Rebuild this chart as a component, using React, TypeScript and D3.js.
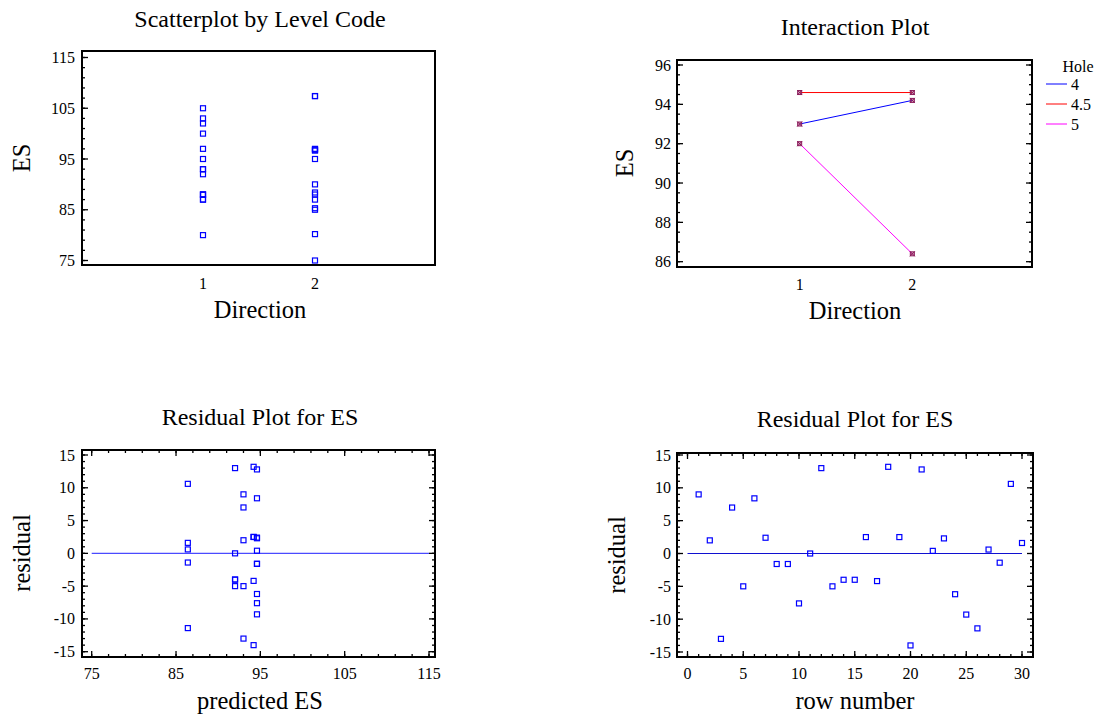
import React from "react";
import * as d3 from "d3";

// Observations: row order, factor levels and the response ES
const direction = [1, 1, 1, 1, 1, 1, 1, 1, 1, 1, 1, 1, 1, 1, 1, 2, 2, 2, 2, 2, 2, 2, 2, 2, 2, 2, 2, 2, 2, 2];
const hole = [4, 4, 4, 4, 4, 4.5, 4.5, 4.5, 4.5, 4.5, 5, 5, 5, 5, 5, 4, 4, 4, 4, 4, 4.5, 4.5, 4.5, 4.5, 4.5, 5, 5, 5, 5, 5];
const es = [
  102, 95, 80, 100, 88,
  103, 97, 93, 93, 87,
  92, 105, 87, 88, 88,
  96.7, 90, 107.4, 96.7, 80.2,
  107.4, 95, 96.9, 88.4, 85.3,
  75, 87, 85, 97, 88,
];

const directionLevels = [1, 2];
const holeLevels = [4, 4.5, 5];
const holeColors = ["#0000ff", "#ff0000", "#ff00ff"];

const esTicks = [75, 85, 95, 105, 115];
const meanTicks = [86, 88, 90, 92, 94, 96];
const residTicks = [-15, -10, -5, 0, 5, 10, 15];
const predTicks = [75, 85, 95, 105, 115];
const rowTicks = [0, 5, 10, 15, 20, 25, 30];

// cell means for the Hole x Direction model
const cellMean = (h: number, dir: number) =>
  d3.mean(es.filter((_, i) => hole[i] === h && direction[i] === dir)) as number;
const predicted = es.map((_, i) => cellMean(hole[i], direction[i]));
const residual = es.map((v, i) => v - predicted[i]);
const rowNumber = es.map((_, i) => i + 1);

const FONT = "'Liberation Serif', 'Times New Roman', serif";
const BLUE = "#0000ff";
const TITLE_SIZE = 24;
const LABEL_SIZE = 24.5;
const TICK_SIZE = 16;

type Frame = { x0: number; x1: number; y0: number; y1: number };
type Lin = d3.ScaleLinear<number, number>;

function Ticks({ scale, values, frame, side, len }: { scale: Lin; values: number[]; frame: Frame; side: "left" | "right" | "top" | "bottom"; len: number }) {
  return (
    <g stroke="#000" strokeWidth={1.3}>
      {values.map((v, i) => {
        const p = scale(v);
        if (side === "left") return <line key={i} x1={frame.x0} x2={frame.x0 + len} y1={p} y2={p} />;
        if (side === "right") return <line key={i} x1={frame.x1} x2={frame.x1 - len} y1={p} y2={p} />;
        if (side === "top") return <line key={i} x1={p} x2={p} y1={frame.y0} y2={frame.y0 + len} />;
        return <line key={i} x1={p} x2={p} y1={frame.y1} y2={frame.y1 - len} />;
      })}
    </g>
  );
}

function range(a: number, b: number, step: number) {
  return d3.range(a, b + step / 2, step).map((v) => +v.toFixed(4));
}

function Square({ x, y }: { x: number; y: number }) {
  return <rect x={x - 2.5} y={y - 2.5} width={5} height={5} fill="none" stroke={BLUE} strokeWidth={1.2} />;
}

function Title({ x, y, text }: { x: number; y: number; text: string }) {
  return (
    <text x={x} y={y} textAnchor="middle" fontSize={TITLE_SIZE} fontFamily={FONT}>
      {text}
    </text>
  );
}

function AxisLabelX({ x, y, text }: { x: number; y: number; text: string }) {
  return (
    <text x={x} y={y} textAnchor="middle" fontSize={LABEL_SIZE} fontFamily={FONT}>
      {text}
    </text>
  );
}

function AxisLabelY({ x, y, text }: { x: number; y: number; text: string }) {
  return (
    <text transform={`translate(${x},${y}) rotate(-90)`} textAnchor="middle" fontSize={LABEL_SIZE} fontFamily={FONT}>
      {text}
    </text>
  );
}

function YTickLabels({ scale, values, x }: { scale: Lin; values: number[]; x: number }) {
  return (
    <g fontSize={TICK_SIZE} fontFamily={FONT} textAnchor="end">
      {values.map((v) => (
        <text key={v} x={x} y={scale(v) + 5.5}>
          {v}
        </text>
      ))}
    </g>
  );
}

function XTickLabels({ scale, values, y }: { scale: Lin; values: number[]; y: number }) {
  return (
    <g fontSize={TICK_SIZE} fontFamily={FONT} textAnchor="middle">
      {values.map((v) => (
        <text key={v} x={scale(v)} y={y}>
          {v}
        </text>
      ))}
    </g>
  );
}

function FrameRect({ f }: { f: Frame }) {
  return <rect x={f.x0} y={f.y0} width={f.x1 - f.x0} height={f.y1 - f.y0} fill="none" stroke="#000" strokeWidth={2} />;
}

export default function App() {
  // Scatterplot by level code
  const f1: Frame = { x0: 82, x1: 435, y0: 51, y1: 265 };
  const x1 = d3.scaleLinear().domain([0, 3]).range([91, 427]);
  const y1 = d3.scaleLinear().domain([75, 115]).range([260.5, 57.5]);

  // Interaction plot
  const f2: Frame = { x0: 677, x1: 1032, y0: 60, y1: 267 };
  const x2 = d3.scaleLinear().domain([0, 3]).range([687, 1025]);
  const y2 = d3.scaleLinear().domain([86, 96]).range([261.7, 65]);
  const lineGen = d3
    .line<{ d: number; m: number }>()
    .x((p) => x2(p.d))
    .y((p) => y2(p.m));

  // Residuals vs predicted
  const f3: Frame = { x0: 82, x1: 435, y0: 450, y1: 657 };
  const x3 = d3.scaleLinear().domain([75, 115]).range([91.7, 429]);
  const y3 = d3.scaleLinear().domain([-15, 15]).range([651.7, 455]);

  // Residuals vs row number
  const f4: Frame = { x0: 677, x1: 1033, y0: 453, y1: 657 };
  const x4 = d3.scaleLinear().domain([0, 30]).range([687.5, 1022]);
  const y4 = d3.scaleLinear().domain([-15, 15]).range([652, 455]);

  return (
    <svg width={1102} height={715} style={{ position: "absolute", left: 0, top: 0, background: "#fff" }}>
      <rect width={1102} height={715} fill="#fff" />

      {/* Panel 1 */}
      <Title x={260} y={27} text="Scatterplot by Level Code" />
      <Ticks scale={y1} values={range(75, 115, 2)} frame={f1} side="left" len={3} />
      <Ticks scale={y1} values={esTicks} frame={f1} side="left" len={6} />
      <YTickLabels scale={y1} values={esTicks} x={75} />
      <XTickLabels scale={x1} values={directionLevels} y={289} />
      {es.map((v, i) => (
        <Square key={i} x={x1(direction[i])} y={y1(v)} />
      ))}
      <FrameRect f={f1} />
      <AxisLabelY x={30} y={158} text="ES" />
      <AxisLabelX x={260} y={318} text="Direction" />

      {/* Panel 2 */}
      <Title x={855} y={35} text="Interaction Plot" />
      <Ticks scale={y2} values={range(86, 96, 0.5)} frame={f2} side="left" len={3} />
      <Ticks scale={y2} values={meanTicks} frame={f2} side="left" len={6} />
      <Ticks scale={y2} values={range(86, 96, 0.5)} frame={f2} side="right" len={3} />
      <Ticks scale={y2} values={meanTicks} frame={f2} side="right" len={6} />
      <YTickLabels scale={y2} values={meanTicks} x={671} />
      <XTickLabels scale={x2} values={directionLevels} y={290} />
      {holeLevels.map((h, k) => {
        const pts = directionLevels.map((d) => ({ d, m: cellMean(h, d) }));
        return (
          <g key={h}>
            <path d={lineGen(pts) as string} fill="none" stroke={holeColors[k]} strokeWidth={1} />
            {pts.map((p, j) => (
              <g key={j} stroke="#8a1a5a" strokeWidth={1} transform={`translate(${x2(p.d)},${y2(p.m)})`}>
                <rect x={-2} y={-2} width={4} height={4} fill="#b05080" fillOpacity={0.5} />
                <line x1={-2.5} y1={-2.5} x2={2.5} y2={2.5} />
                <line x1={-2.5} y1={2.5} x2={2.5} y2={-2.5} />
              </g>
            ))}
          </g>
        );
      })}
      <FrameRect f={f2} />
      <AxisLabelY x={633} y={163} text="ES" />
      <AxisLabelX x={855} y={319} text="Direction" />
      <text x={1078} y={72} textAnchor="middle" fontSize={TICK_SIZE} fontFamily={FONT}>
        Hole
      </text>
      {holeLevels.map((h, k) => (
        <g key={h}>
          <line x1={1046} x2={1067} y1={84 + k * 20} y2={84 + k * 20} stroke={holeColors[k]} strokeWidth={1} />
          <text x={1071} y={89.5 + k * 20} fontSize={TICK_SIZE} fontFamily={FONT}>
            {h}
          </text>
        </g>
      ))}

      {/* Panel 3 */}
      <Title x={260} y={425} text="Residual Plot for ES" />
      <Ticks scale={y3} values={range(-15, 15, 1)} frame={f3} side="left" len={3} />
      <Ticks scale={y3} values={residTicks} frame={f3} side="left" len={6} />
      <Ticks scale={y3} values={range(-15, 15, 1)} frame={f3} side="right" len={3} />
      <Ticks scale={y3} values={residTicks} frame={f3} side="right" len={6} />
      <Ticks scale={x3} values={range(75, 115, 2)} frame={f3} side="top" len={3} />
      <Ticks scale={x3} values={predTicks} frame={f3} side="top" len={6} />
      <Ticks scale={x3} values={range(75, 115, 2)} frame={f3} side="bottom" len={3} />
      <Ticks scale={x3} values={predTicks} frame={f3} side="bottom" len={6} />
      <YTickLabels scale={y3} values={residTicks} x={75} />
      <XTickLabels scale={x3} values={predTicks} y={679} />
      <line x1={x3(75)} x2={x3(115)} y1={y3(0)} y2={y3(0)} stroke="#4a4aff" strokeWidth={1.2} />
      {es.map((_, i) => (
        <Square key={i} x={x3(predicted[i])} y={y3(residual[i])} />
      ))}
      <FrameRect f={f3} />
      <AxisLabelY x={30} y={553} text="residual" />
      <AxisLabelX x={260} y={709} text="predicted ES" />

      {/* Panel 4 */}
      <Title x={855} y={427} text="Residual Plot for ES" />
      <Ticks scale={y4} values={range(-15, 15, 1)} frame={f4} side="left" len={3} />
      <Ticks scale={y4} values={residTicks} frame={f4} side="left" len={6} />
      <Ticks scale={y4} values={range(-15, 15, 1)} frame={f4} side="right" len={3} />
      <Ticks scale={y4} values={residTicks} frame={f4} side="right" len={6} />
      <Ticks scale={x4} values={range(0, 30, 1)} frame={f4} side="top" len={3} />
      <Ticks scale={x4} values={rowTicks} frame={f4} side="top" len={6} />
      <Ticks scale={x4} values={range(0, 30, 1)} frame={f4} side="bottom" len={3} />
      <Ticks scale={x4} values={rowTicks} frame={f4} side="bottom" len={6} />
      <YTickLabels scale={y4} values={residTicks} x={671} />
      <XTickLabels scale={x4} values={rowTicks} y={679} />
      <line x1={x4(0)} x2={x4(30)} y1={y4(0)} y2={y4(0)} stroke="#1010d0" strokeWidth={1} />
      {residual.map((r, i) => (
        <Square key={i} x={x4(rowNumber[i])} y={y4(r)} />
      ))}
      <FrameRect f={f4} />
      <AxisLabelY x={625} y={555} text="residual" />
      <AxisLabelX x={855} y={709} text="row number" />
    </svg>
  );
}
